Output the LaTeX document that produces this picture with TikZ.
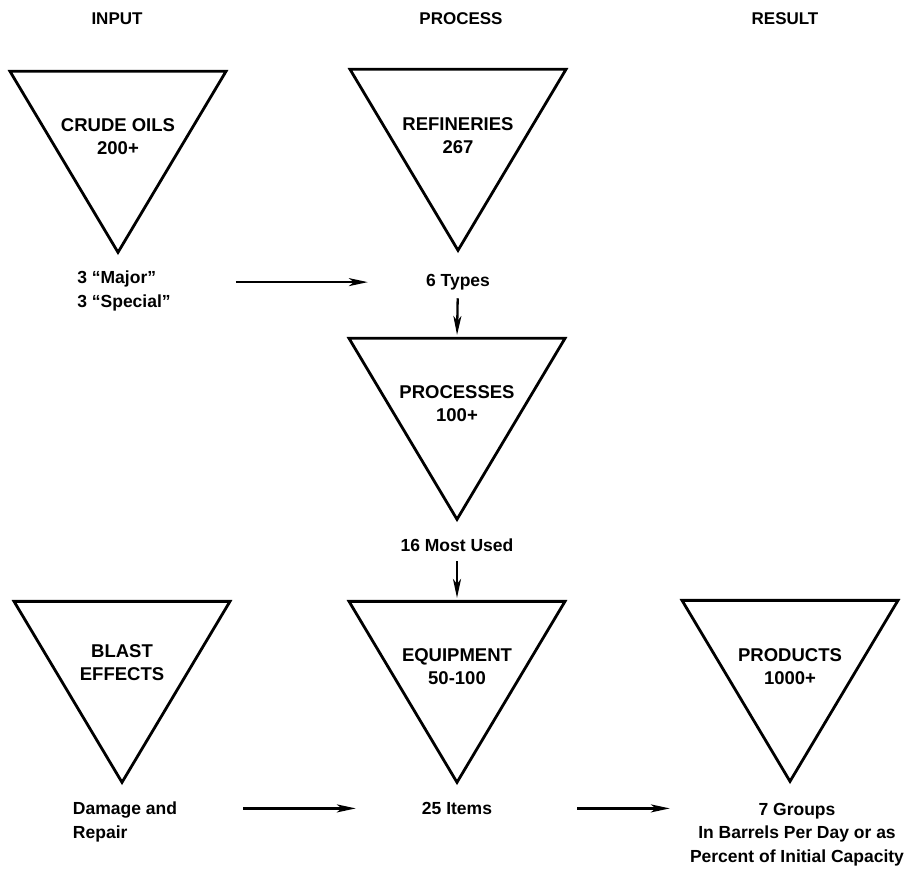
\documentclass[tikz,border=0pt]{standalone}
\usepackage{fontspec}
\setmainfont{Liberation Sans}
\usepackage{tikz}
\usetikzlibrary{positioning}
\usetikzlibrary{shapes.geometric}
\usetikzlibrary{arrows.meta}
\tikzset{tri node/.style={draw,line width=2.8pt,isosceles triangle,isosceles triangle stretches,shape border rotate=270,minimum width=216pt,minimum height=181pt,inner sep=0pt,anchor=apex},
  name node/.style={align=center,inner sep=0pt,font=\bfseries\fontsize{18.5}{23}\selectfont},
  lbl node/.style={inner sep=0pt,font=\bfseries\fontsize{17.5}{23.5}\selectfont},
  head node/.style={inner sep=0pt,font=\bfseries\fontsize{17}{20}\selectfont},
  flow/.style={line width=2.3pt,-{Stealth[length=19pt,width=8pt,inset=5pt]}},}

\begin{document}
\begin{tikzpicture}[x=1pt,y=-1pt]
  \useasboundingbox (0,0) rectangle (915,868);

  \node[head node] (h1) at (117,19) {INPUT};
  \node[head node] (h2) at (461,19) {PROCESS};
  \node[head node] (h3) at (785,19) {RESULT};

  \node[tri node] (crude) at (118,256) {};
  \node[tri node] (refin) at (458,254) {};
  \node[tri node] (proc) at (457,523) {};
  \node[tri node] (blast) at (122,786) {};
  \node[tri node] (equip) at (457,786) {};
  \node[tri node] (prod) at (790,785) {};

  \node[name node, above=101pt of crude.apex] (crudett) {CRUDE OILS\\200+};
  \node[name node, above=100pt of refin.apex] (refintt) {REFINERIES\\267};
  \node[name node, above=101pt of proc.apex] (proctt) {PROCESSES\\100+};
  \node[name node, above=105pt of blast.apex] (blasttt) {BLAST\\EFFECTS};
  \node[name node, above=101pt of equip.apex] (equiptt) {EQUIPMENT\\50-100};
  \node[name node, above=100pt of prod.apex] (prodtt) {PRODUCTS\\1000+};

  \node[lbl node, align=left, below=15pt of crude.apex, xshift=6pt] (crudelbl) {3 “Major”\\3 “Special”};
  \node[lbl node, below=20pt of refin.apex] (types) {6 Types};
  \node[lbl node, below=16pt of proc.apex] (mostused) {16 Most Used};
  \node[lbl node, align=left, below=16pt of blast.apex, xshift=3pt] (damage) {Damage and\\Repair};
  \node[lbl node, below=16pt of equip.apex] (items) {25 Items};
  \node[lbl node, align=center, below=18pt of prod.apex, xshift=7pt] (groups) {7 Groups\\In Barrels Per Day or as\\Percent of Initial Capacity};

  \draw[flow, shorten <=65pt, shorten >=58pt] (crudelbl.east |- types.center) -- (types.west);
  \draw[flow, shorten <=8pt, shorten >=2pt] (types) -- (proc.lower side);
  \draw[flow, shorten <=9pt, shorten >=2pt] (mostused) -- (equip.lower side);
  \draw[flow, shorten <=66pt, shorten >=66pt] (damage.east |- items.center) -- (items.west);
  \draw[flow, shorten <=85pt, shorten >=20pt] (items.east) -- (groups.west |- items.center);
\end{tikzpicture}
\end{document}
